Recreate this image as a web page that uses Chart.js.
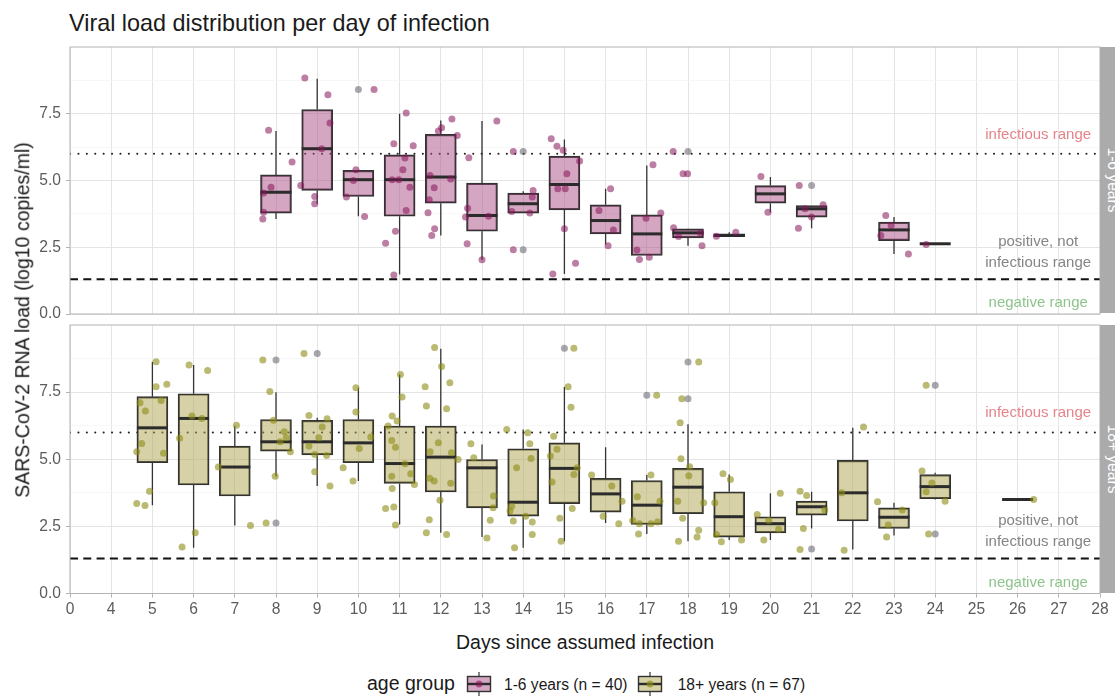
<!DOCTYPE html>
<html>
<head>
<meta charset="utf-8">
<title>Viral load distribution per day of infection</title>
<script src="https://cdn.jsdelivr.net/npm/chart.js@4.4.1/dist/chart.umd.min.js"></script>
<style>
  body { margin: 0; background: #fff; font-family: "Liberation Sans", Arial, sans-serif; }
  #page { position: relative; width: 1115px; height: 696px; overflow: hidden; }
  canvas { position: absolute; left: 0; }
  .txt { position: absolute; line-height: 1; white-space: nowrap; }
  .strip { position: absolute; left: 1100px; width: 30px; background: #ababab; }
  .strip span { position: absolute; left: 13px; top: 50%; transform: translate(-50%, -50%) rotate(90deg);
                color: #fff; font-size: 15.6px; line-height: 1; white-space: nowrap; }
  svg { position: absolute; }
</style>
</head>
<body>
<div id="page">
  <div class="txt" style="left:69px; top:12px; font-size:23.4px; color:#1a1a1a;">Viral load distribution per day of infection</div>

  <canvas id="kidsChart" width="1115" height="297" style="top:31.7px;"></canvas>
  <canvas id="adultsChart" width="1115" height="310" style="top:310.3px;"></canvas>

  <div class="strip" style="top:46.7px; height:266.6px;"><span>1-6 years</span></div>
  <div class="strip" style="top:325.3px; height:268.2px;"><span>18+ years</span></div>

  <div class="txt" style="left:22.5px; top:320px; font-size:19.5px; color:#1a1a1a; transform:translate(-50%,-50%) rotate(-90deg);">SARS-CoV-2 RNA load (log10 copies/ml)</div>
  <div class="txt" style="left:285px; width:600px; text-align:center; top:632.5px; font-size:19.5px; color:#1a1a1a;">Days since assumed infection</div>

  <!-- legend -->
  <div class="txt" style="left:367px; top:674.2px; font-size:19.5px; color:#1a1a1a;">age group</div>
  <svg style="left:466px; top:672px;" width="26" height="24" viewBox="0 0 26 24">
    <line x1="13" y1="0" x2="13" y2="24" stroke="#333" stroke-width="1.2"/>
    <rect x="1.5" y="4.5" width="23" height="15" fill="#d5a6c2" stroke="#333" stroke-width="1.4"/>
    <line x1="1.5" y1="12" x2="24.5" y2="12" stroke="#2b2b2b" stroke-width="2.4"/>
    <circle cx="13" cy="12" r="3.4" fill="rgba(135,20,90,0.6)"/>
  </svg>
  <div class="txt" style="left:504px; top:676.8px; font-size:15.6px; color:#1a1a1a;">1-6 years (n = 40)</div>
  <svg style="left:637px; top:672px;" width="26" height="24" viewBox="0 0 26 24">
    <line x1="13" y1="0" x2="13" y2="24" stroke="#333" stroke-width="1.2"/>
    <rect x="1.5" y="4.5" width="23" height="15" fill="#d6d1a6" stroke="#333" stroke-width="1.4"/>
    <line x1="1.5" y1="12" x2="24.5" y2="12" stroke="#2b2b2b" stroke-width="2.4"/>
    <circle cx="13" cy="12" r="3.4" fill="rgba(140,140,20,0.65)"/>
  </svg>
  <div class="txt" style="left:677.7px; top:676.8px; font-size:15.6px; color:#1a1a1a;">18+ years (n = 67)</div>
</div>

<script>
/* ---------- DATA ---------- */
const dayLabels = ['0', '4', '5', '6', '7', '8', '9', '10', '11', '12', '13', '14', '15', '16',
                   '17', '18', '19', '20', '21', '22', '23', '24', '25', '26', '27', '28'];

// 1-6 years: box statistics per day (log10 copies/ml)
const kidsDays   = [8, 9, 10, 11, 12, 13, 14, 15, 16, 17, 18, 19, 20, 21, 23, 24];
const kidsLow    = [3.56, 4.13, 3.66, 1.48, 2.94, 2.03, 3.78, 1.50, 2.60, 2.19, 2.56, 2.90, 3.81, 3.21, 2.25, 2.63];
const kidsQ1     = [3.78, 4.63, 4.40, 3.66, 4.15, 3.10, 3.78, 3.90, 3.00, 2.19, 2.85, 2.90, 4.15, 3.63, 2.75, 2.63];
const kidsMedian = [4.56, 6.19, 5.03, 5.03, 5.13, 3.69, 4.13, 4.85, 3.50, 3.00, 3.04, 2.94, 4.50, 3.94, 3.15, 2.63];
const kidsQ3     = [5.21, 7.66, 5.38, 5.96, 6.73, 4.90, 4.53, 5.91, 4.09, 3.71, 3.19, 3.00, 4.81, 4.06, 3.44, 2.63];
const kidsHigh   = [6.85, 8.81, 5.40, 7.50, 7.25, 7.23, 4.60, 6.54, 4.69, 5.56, 3.20, 3.06, 5.13, 4.06, 3.63, 2.63];

// 1-6 years: single samples [day, horizontal jitter, load]
const kidsPoints = [
  [8, -0.18, 6.88], [8, 0.39, 5.69], [8, -0.12, 4.75], [8, -0.30, 4.53], [8, -0.30, 3.81], [8, -0.32, 3.56],
  [9, -0.30, 8.84], [9, 0.26, 8.21], [9, 0.31, 7.15], [9, 0.11, 6.19], [9, -0.40, 4.81], [9, -0.06, 4.40], [9, -0.06, 4.13],
  [10, 0.38, 8.41], [10, -0.06, 5.40], [10, -0.12, 5.00], [10, -0.29, 4.38], [10, 0.15, 3.65],
  [11, 0.16, 7.53], [11, -0.14, 6.38], [11, 0.33, 6.30], [11, 0.13, 5.84], [11, 0.08, 5.40], [11, -0.18, 5.03],
  [11, -0.02, 5.03], [11, 0.25, 4.75], [11, 0.16, 3.88], [11, -0.10, 3.10], [11, -0.34, 2.65], [11, -0.14, 1.46],
  [12, 0.27, 7.30], [12, 0.02, 6.98], [12, -0.06, 6.85], [12, 0.40, 6.69], [12, -0.26, 5.19], [12, 0.24, 5.06],
  [12, -0.16, 4.73], [12, -0.28, 4.28], [12, -0.31, 3.79], [12, -0.15, 3.19], [12, -0.22, 2.94],
  [13, 0.36, 7.23], [13, -0.32, 5.85], [13, -0.35, 3.96], [13, -0.40, 3.63], [13, 0.16, 3.66], [13, -0.36, 2.63], [13, 0.00, 2.03],
  [14, -0.24, 6.09], [14, 0.24, 4.63], [14, 0.22, 4.38], [14, -0.28, 3.84], [14, 0.16, 3.78], [14, -0.24, 2.41],
  [15, -0.32, 6.56], [15, -0.18, 6.28], [15, -0.03, 6.13], [15, 0.37, 5.73], [15, 0.06, 5.25], [15, -0.16, 4.69],
  [15, 0.02, 4.69], [15, 0.00, 3.19], [15, 0.27, 1.90], [15, -0.28, 1.50],
  [16, 0.12, 4.69], [16, -0.16, 3.88], [16, 0.19, 3.15], [16, 0.06, 2.56],
  [17, 0.15, 5.59], [17, 0.34, 3.78], [17, -0.02, 3.59], [17, -0.24, 2.40], [17, -0.18, 2.04], [17, 0.06, 2.13],
  [18, -0.36, 6.09], [18, -0.12, 5.25], [18, -0.01, 5.25], [18, -0.35, 3.23], [18, -0.23, 2.90], [18, 0.30, 3.03], [18, 0.34, 2.56],
  [19, -0.31, 2.91], [19, 0.16, 3.06],
  [20, -0.23, 5.15], [20, -0.06, 3.81],
  [21, -0.30, 4.81], [21, -0.16, 3.94], [21, 0.28, 4.09], [21, 0.00, 3.63], [21, -0.32, 3.21],
  [23, -0.20, 3.69], [23, -0.07, 3.31], [23, -0.32, 2.94], [23, 0.35, 2.25],
  [24, -0.22, 2.60]
];
const kidsOutliers = [[10, 8.41], [14, 6.09], [14, 2.41], [18, 6.09], [21, 4.81]];

// 18+ years: box statistics per day
const adultsDays   = [5, 6, 7, 8, 9, 10, 11, 12, 13, 14, 15, 16, 17, 18, 19, 20, 21, 22, 23, 24, 26];
const adultsLow    = [3.29, 1.70, 2.53, 4.37, 4.00, 4.19, 2.57, 2.26, 2.10, 1.70, 1.95, 2.63, 2.22, 1.95, 1.99, 1.99, 2.42, 1.64, 2.16, 3.50, 3.50];
const adultsQ1     = [4.87, 4.04, 3.63, 5.30, 5.16, 4.87, 4.10, 3.78, 3.19, 2.88, 3.35, 3.03, 2.57, 2.97, 2.10, 2.26, 2.92, 2.70, 2.42, 3.53, 3.50];
const adultsMedian = [6.17, 6.52, 4.71, 5.65, 5.65, 5.61, 4.84, 5.08, 4.68, 3.40, 4.66, 3.71, 3.29, 3.96, 2.86, 2.60, 3.23, 3.75, 2.84, 3.98, 3.50];
const adultsQ3     = [7.33, 7.44, 5.49, 6.48, 6.45, 6.48, 6.24, 6.24, 4.99, 5.39, 5.61, 4.29, 4.21, 4.66, 3.79, 2.86, 3.44, 4.96, 3.19, 4.43, 3.50];
const adultsHigh   = [8.62, 8.51, 6.24, 7.50, 6.55, 7.66, 8.16, 9.12, 5.55, 6.11, 7.69, 5.45, 4.41, 6.30, 4.43, 3.73, 3.79, 6.17, 3.38, 4.50, 3.50];

const adultsPoints = [
  [5, 0.09, 8.63], [5, 0.09, 7.70], [5, 0.35, 7.79], [5, -0.30, 7.10], [5, -0.17, 6.80], [5, 0.21, 7.19],
  [5, -0.26, 5.59], [5, -0.38, 5.28], [5, 0.27, 5.22], [5, -0.07, 3.81], [5, -0.38, 3.35], [5, -0.18, 3.28],
  [6, -0.11, 8.51], [6, 0.34, 8.31], [6, -0.04, 6.61], [6, 0.20, 6.52], [6, -0.34, 5.78], [6, 0.04, 2.26], [6, -0.28, 1.73],
  [7, 0.04, 6.27], [7, -0.40, 4.71], [7, 0.38, 2.53],
  [8, -0.32, 8.70], [8, -0.15, 7.52], [8, -0.06, 6.45], [8, 0.20, 6.02], [8, 0.25, 5.80], [8, 0.35, 5.28],
  [8, -0.02, 4.37], [8, -0.24, 2.63], [8, 0.10, 5.65],
  [9, -0.32, 8.94], [9, -0.20, 6.63], [9, 0.24, 6.51], [9, 0.12, 6.20], [9, 0.04, 5.80], [9, -0.20, 5.49],
  [9, -0.06, 5.18], [9, 0.23, 5.14], [9, -0.06, 4.53], [9, 0.31, 4.00],
  [10, -0.06, 7.66], [10, -0.06, 6.76], [10, 0.30, 5.83], [10, 0.02, 5.40], [10, -0.37, 4.68], [10, -0.13, 4.19],
  [11, 0.02, 8.16], [11, 0.06, 7.32], [11, -0.18, 6.61], [11, -0.06, 6.42], [11, -0.28, 6.24], [11, -0.19, 5.70],
  [11, -0.10, 5.45], [11, 0.13, 4.83], [11, 0.27, 4.46], [11, -0.19, 4.37], [11, 0.36, 4.06], [11, -0.18, 3.91],
  [11, -0.34, 3.17], [11, -0.14, 3.22], [11, -0.10, 2.55],
  [12, -0.15, 9.16], [12, 0.02, 8.45], [12, 0.22, 7.85], [12, -0.38, 7.70], [12, 0.14, 6.88], [12, -0.35, 6.98],
  [12, -0.06, 5.61], [12, -0.26, 5.28], [12, 0.26, 5.24], [12, 0.42, 4.99], [12, -0.27, 4.29], [12, -0.16, 4.19],
  [12, 0.24, 4.11], [12, -0.02, 3.47], [12, -0.28, 2.75], [12, -0.35, 2.26], [12, 0.14, 2.20],
  [13, -0.27, 5.58], [13, -0.20, 5.06], [13, 0.28, 3.63], [13, 0.27, 3.19], [13, 0.20, 2.73], [13, 0.12, 2.07],
  [14, -0.40, 6.11], [14, 0.11, 5.99], [14, 0.16, 5.58], [14, -0.16, 4.68], [14, 0.19, 5.03], [14, -0.28, 3.25],
  [14, -0.32, 3.07], [14, -0.24, 2.70], [14, 0.22, 2.66], [14, 0.22, 2.20], [14, -0.21, 1.70], [14, 0.06, 2.88],
  [15, 0.23, 9.13], [15, 0.09, 7.70], [15, 0.16, 6.94], [15, -0.26, 5.86], [15, -0.18, 5.37], [15, -0.34, 5.12],
  [15, 0.31, 4.68], [15, -0.30, 4.15], [15, 0.23, 4.43], [15, -0.11, 2.80], [15, -0.08, 1.95], [15, 0.19, 3.17],
  [16, -0.34, 4.41], [16, 0.15, 4.00], [16, 0.40, 3.44], [16, -0.06, 2.88], [16, 0.32, 2.60],
  [17, 0.24, 7.38], [17, 0.10, 4.41], [17, -0.23, 3.60], [17, -0.34, 2.72], [17, -0.18, 2.60], [17, 0.10, 2.60],
  [17, 0.26, 2.66], [17, -0.20, 2.22], [17, 0.32, 3.44],
  [18, 0.26, 8.62], [18, -0.15, 7.25], [18, -0.19, 6.36], [18, -0.17, 5.02], [18, 0.04, 4.72], [18, -0.25, 3.44],
  [18, 0.02, 4.39], [18, 0.38, 3.38], [18, -0.13, 2.80], [18, 0.26, 2.36], [18, 0.22, 2.10], [18, -0.23, 1.95],
  [19, -0.15, 4.46], [19, 0.03, 4.25], [19, -0.35, 3.38], [19, -0.31, 2.20], [19, -0.19, 1.93], [19, 0.30, 1.99],
  [20, 0.24, 3.73], [20, -0.32, 2.94], [20, -0.04, 2.72], [20, 0.20, 2.39], [20, -0.16, 1.99],
  [21, -0.28, 3.81], [21, -0.12, 3.65], [21, 0.32, 3.11], [21, -0.20, 2.42], [21, -0.28, 1.64],
  [22, 0.26, 6.20], [22, -0.27, 3.75], [22, -0.21, 1.61],
  [23, -0.40, 3.42], [23, 0.20, 3.11], [23, -0.14, 2.55], [23, -0.18, 2.10],
  [24, -0.22, 7.76], [24, -0.32, 4.56], [24, -0.08, 4.12], [24, -0.22, 3.79], [24, 0.24, 3.44], [24, -0.16, 2.22],
  [26, 0.39, 3.50]
];
const adultsOutliers = [[8, 8.70], [8, 2.63], [9, 8.94], [15, 9.13], [17, 7.38], [18, 8.62], [18, 7.25],
                        [21, 1.66], [24, 7.76], [24, 2.22]];

// thresholds and range labels
const infectiousCutoff = 6;
const negativeCutoff = 1.3;
const rangeLabels = ['infectious range', 'positive, not', 'infectious range', 'negative range'];
const rangeLabelLoad = [6.72, 2.70, 1.91, 0.40];
const rangeLabelColors = ['#e6838b', '#858585', '#858585', '#8dc48d'];
const rangeLabelDay = 26.5;

/* ---------- HELPERS ---------- */
// day 0 sits at the left edge, then 4, 5, 6 ... are one step apart
function dayPos(d) {
    return d === 0 ? 0 : d - 3;
}

function isMajor(v) {
    return Math.abs(v / 2.5 - Math.round(v / 2.5)) < 1e-6;
}

/* ---------- PLUGINS ---------- */
// whiskers under the box, median over it
const boxParts = {
    id: 'boxParts',
    beforeDatasetDraw(chart, args) {
        const ds = chart.data.datasets[args.index];
        if (!ds.stats) return;
        const ctx = chart.ctx, x = chart.scales.x, y = chart.scales.y;
        ctx.save();
        ctx.strokeStyle = '#333';
        ctx.lineWidth = 1.3;
        ds.stats.days.forEach((d, i) => {
            const px = x.getPixelForValue(dayPos(d));
            ctx.beginPath();
            ctx.moveTo(px, y.getPixelForValue(ds.stats.high[i]));
            ctx.lineTo(px, y.getPixelForValue(ds.stats.q3[i]));
            ctx.moveTo(px, y.getPixelForValue(ds.stats.q1[i]));
            ctx.lineTo(px, y.getPixelForValue(ds.stats.low[i]));
            ctx.stroke();
        });
        ctx.restore();
    },
    afterDatasetDraw(chart, args) {
        const ds = chart.data.datasets[args.index];
        if (!ds.stats) return;
        const ctx = chart.ctx, y = chart.scales.y;
        ctx.save();
        ctx.strokeStyle = '#2b2b2b';
        ctx.lineWidth = 3;
        args.meta.data.forEach((bar, i) => {
            const py = y.getPixelForValue(ds.stats.median[i]);
            ctx.beginPath();
            ctx.moveTo(bar.x - bar.width / 2, py);
            ctx.lineTo(bar.x + bar.width / 2, py);
            ctx.stroke();
        });
        ctx.restore();
    }
};

// range texts and the panel frame
const panelDecor = {
    id: 'panelDecor',
    afterDatasetsDraw(chart) {
        const ctx = chart.ctx, area = chart.chartArea;
        const x = chart.scales.x, y = chart.scales.y;
        ctx.save();
        ctx.font = '15px "Liberation Sans", Arial, sans-serif';
        ctx.textAlign = 'center';
        ctx.textBaseline = 'middle';
        rangeLabels.forEach((t, i) => {
            ctx.fillStyle = rangeLabelColors[i];
            ctx.fillText(t, x.getPixelForValue(dayPos(rangeLabelDay)), y.getPixelForValue(rangeLabelLoad[i]));
        });
        ctx.strokeStyle = '#b3b3b3';
        ctx.lineWidth = 1;
        ctx.strokeRect(area.left, area.top, area.right - area.left, area.bottom - area.top);
        ctx.restore();
    }
};

/* ---------- PANEL BUILDER ---------- */
function makePanel(canvasId, s, showX) {
    const datasets = [
        {
            type: 'line', order: 4,
            data: [{x: 0, y: infectiousCutoff}, {x: 25, y: infectiousCutoff}],
            borderColor: '#222', borderWidth: 2, borderDash: [0.1, 8.3], borderCapStyle: 'round',
            pointRadius: 0
        },
        {
            type: 'line', order: 4,
            data: [{x: 0, y: negativeCutoff}, {x: 25, y: negativeCutoff}],
            borderColor: '#111', borderWidth: 2, borderDash: [8, 5.3],
            pointRadius: 0
        },
        {
            type: 'bar', order: 3,
            data: s.days.map((d, i) => ({x: dayPos(d), y: [s.q1[i], s.q3[i]]})),
            backgroundColor: s.fill, borderColor: '#333', borderWidth: 1.5, borderSkipped: false,
            barThickness: 31,
            stats: s
        },
        {
            type: 'scatter', order: 2,
            data: s.outliers.map(o => ({x: dayPos(o[0]), y: o[1]})),
            pointBackgroundColor: 'rgba(95,95,105,0.55)', pointBorderWidth: 0, pointRadius: 3.5
        },
        {
            type: 'scatter', order: 1,
            data: s.points.map(p => ({x: dayPos(p[0]) + p[1], y: p[2]})),
            pointBackgroundColor: s.dot, pointBorderWidth: 0, pointRadius: 3.5
        }
    ];

    const canvas = document.getElementById(canvasId);
    return new Chart(canvas, {
        type: 'scatter',
        data: { datasets: datasets },
        options: {
            responsive: false,
            animation: false,
            events: [],
            layout: { padding: showX ? {top: 15, right: 15, bottom: 0, left: 0}
                                     : {top: 15, right: 15, bottom: 15, left: 0} },
            plugins: { legend: { display: false }, tooltip: { enabled: false } },
            scales: {
                x: {
                    type: 'linear', min: 0, max: 25, offset: false,
                    border: { display: false },
                    grid: { color: '#e4e4e4', lineWidth: 1, offset: false,
                            drawTicks: showX, tickLength: 4, tickColor: '#b3b3b3' },
                    ticks: {
                        display: showX, stepSize: 1, autoSkip: false, maxRotation: 0, padding: 3,
                        color: '#5c5c5c', font: { family: '"Liberation Sans", Arial, sans-serif', size: 15.6 },
                        callback: v => dayLabels[v]
                    },
                    afterFit: scale => { scale.height = showX ? 26.5 : 0; }
                },
                y: {
                    type: 'linear', min: 0, max: 10,
                    border: { display: false },
                    grid: {
                        color: c => c.tick.value >= 10 ? 'rgba(0,0,0,0)' : (isMajor(c.tick.value) ? '#e4e4e4' : '#f3f3f3'),
                        lineWidth: c => isMajor(c.tick.value) ? 1 : 0.7,
                        tickLength: 4,
                        tickColor: c => (isMajor(c.tick.value) && c.tick.value < 10) ? '#b3b3b3' : 'rgba(0,0,0,0)'
                    },
                    ticks: {
                        stepSize: 1.25, autoSkip: false, padding: 5,
                        color: '#5c5c5c', font: { family: '"Liberation Sans", Arial, sans-serif', size: 15.6 },
                        callback: v => (isMajor(v) && v < 10) ? v.toFixed(1) : ''
                    },
                    afterFit: scale => { scale.width = 70; }
                }
            }
        },
        plugins: [boxParts, panelDecor]
    });
}

/* ---------- DRAW ---------- */
document.addEventListener('DOMContentLoaded', () => {
    makePanel('kidsChart', {
        days: kidsDays, low: kidsLow, q1: kidsQ1, median: kidsMedian, q3: kidsQ3, high: kidsHigh,
        points: kidsPoints, outliers: kidsOutliers,
        fill: 'rgba(171,77,133,0.5)', dot: 'rgba(135,20,90,0.55)'
    }, false);

    makePanel('adultsChart', {
        days: adultsDays, low: adultsLow, q1: adultsQ1, median: adultsMedian, q3: adultsQ3, high: adultsHigh,
        points: adultsPoints, outliers: adultsOutliers,
        fill: 'rgba(173,163,77,0.5)', dot: 'rgba(140,140,20,0.6)'
    }, true);
});
</script>
</body>
</html>
